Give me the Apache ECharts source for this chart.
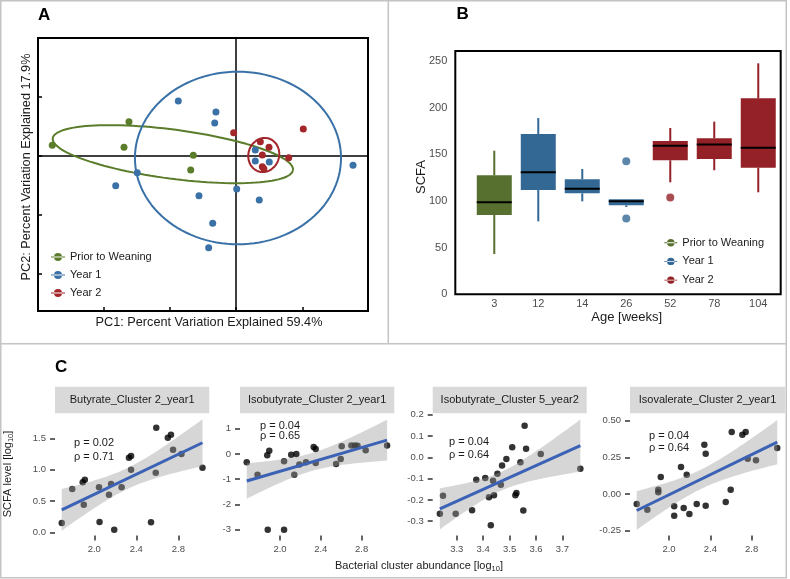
<!DOCTYPE html>
<html><head><meta charset="utf-8">
<script src="https://cdn.jsdelivr.net/npm/echarts@6/dist/echarts.min.js"></script>
<style>html,body{margin:0;padding:0;background:#fff}#c{width:790px;height:579px}</style>
</head><body><div id="c"></div>
<script>
// ---------- Panel A: PCA scores ----------
const groupNames = ['Prior to Weaning', 'Year 1', 'Year 2'];
const pcaPrior = [[-2.771,0.181],[-1.614,0.581],[-1.689,0.147],[-0.644,0.012],[-0.683,-0.237]];
const pcaYear1 = [[-0.870,0.932],[-0.302,0.746],[-0.321,0.559],[-1.814,-0.503],[-1.489,-0.283],[-0.558,-0.673],[0.011,-0.559],[0.351,-0.746],[-0.351,-1.141],[-0.412,-1.554],[1.765,-0.158],[0.291,-0.085],[0.502,-0.102],[0.291,0.102]];
const pcaYear2 = [[-0.035,0.395],[1.015,0.458],[0.367,0.242],[0.498,0.147],[0.397,0.017],[0.795,-0.029],[0.397,-0.181],[0.42,-0.215]];
// ellipse: [centerX, centerY, axis1X, axis1Y, axis2X, axis2Y]
const ellipsePrior = [-0.952, 0.031, 1.813, -0.269, -0.048, -0.412];
const ellipseYear1 = [0.030, -0.034, 1.554, 0, 0, 1.463];
const ellipseYear2 = [0.419, 0.017, 0.075, 0.280, 0.222, -0.075];

// ---------- Panel B: SCFA by age ----------
const ageWeeks = ['3','12','14','26','52','78','104'];
const ageGroup = [0,1,1,1,2,2,2];
const boxLow = [43.2, 78.2, 99.6, 93.5, 120.0, 132.9, 109.3];
const boxQ1 = [85.0, 111.8, 108.2, 95.4, 143.6, 145.0, 135.7];
const boxMedian = [98.6, 130.7, 113.2, 99.6, 159.3, 160.4, 157.1];
const boxQ3 = [127.5, 171.8, 123.2, 101.8, 164.3, 167.1, 210.0];
const boxHigh = [153.9, 188.9, 134.3, 101.8, 178.2, 185.0, 247.5];
const outlierAge = [3, 3, 4];
const outlierValue = [142.5, 81.1, 103.6];

// ---------- Panel C: correlations ----------
const stripNames = ['Butyrate_Cluster 2_year1','Isobutyrate_Cluster 2_year1','Isobutyrate_Cluster 5_year2','Isovalerate_Cluster 2_year1'];
const pValues = ['0.02','0.04','0.04','0.04'];
const rhoValues = ['0.71','0.65','0.64','0.64'];
const corrButyrate = [[1.69,0.15],[1.79,0.69],[1.90,0.44],[1.89,0.80],[1.91,0.84],[2.045,0.72],[2.05,0.165],[2.14,0.60],[2.16,0.77],[2.19,0.04],[2.26,0.72],[2.33,1.19],[2.35,1.22],[2.35,1.00],[2.54,0.16],[2.585,0.95],[2.59,1.67],[2.70,1.51],[2.73,1.56],[2.75,1.32],[2.83,1.25],[3.03,1.03]];
const corrIsobut2 = [[1.674,-0.33],[1.78,-0.82],[1.875,-0.05],[1.895,0.13],[1.88,-3.01],[2.04,-3.01],[2.04,-0.29],[2.11,-0.03],[2.16,0.0],[2.14,-0.82],[2.19,-0.42],[2.255,-0.33],[2.33,0.28],[2.35,0.20],[2.35,-0.36],[2.55,-0.40],[2.595,-0.20],[2.605,0.31],[2.70,0.34],[2.735,0.34],[2.76,0.33],[2.84,0.15],[3.05,0.34]];
const corrIsobut5 = [[3.236,-0.265],[3.248,-0.18],[3.296,-0.265],[3.358,-0.249],[3.374,-0.105],[3.408,-0.097],[3.422,-0.188],[3.429,-0.319],[3.4375,-0.11],[3.441,-0.178],[3.454,-0.077],[3.467,-0.129],[3.4715,-0.038],[3.488,-0.008],[3.51,0.047],[3.522,-0.178],[3.526,-0.168],[3.541,-0.023],[3.552,-0.25],[3.557,0.148],[3.5625,0.040],[3.618,0.016],[3.768,-0.054]];
const corrIsoval = [[1.687,-0.068],[1.79,-0.107],[1.896,0.029],[1.896,0.012],[1.92,0.116],[2.05,-0.084],[2.05,-0.148],[2.116,0.185],[2.142,-0.096],[2.171,0.132],[2.197,-0.137],[2.268,-0.068],[2.342,0.337],[2.355,0.275],[2.355,-0.080],[2.549,-0.055],[2.597,0.029],[2.607,0.424],[2.71,0.405],[2.742,0.424],[2.762,0.241],[2.842,0.23],[3.048,0.314]];
const cXTicks = [[2.0,2.4,2.8],[2.0,2.4,2.8],[3.3,3.4,3.5,3.6,3.7],[2.0,2.4,2.8]];
const cYTicks = [[0,0.5,1.0,1.5],[-3,-2,-1,0,1],[-0.3,-0.2,-0.1,0,0.1,0.2],[-0.25,0,0.25,0.5]];
const cYDecimals = [1,0,1,2];

// ---------- helpers ----------
const FONT = 'Liberation Sans, Arial, sans-serif';
const colA = ['#5b7d2b','#3a72a8','#a3262b'];
const colB = ['#577030','#336895','#932127'];

function ellipsePath(e) {
  const pts = [];
  for (let i = 0; i <= 120; i++) {
    const t = 2 * Math.PI * i / 120;
    pts.push([e[0] + Math.cos(t)*e[2] + Math.sin(t)*e[4], e[1] + Math.cos(t)*e[3] + Math.sin(t)*e[5]]);
  }
  return pts;
}
const T975 = {18:2.101,19:2.093,20:2.086,21:2.080,22:2.074,23:2.069,24:2.064,25:2.060};
function lmBand(pts) {
  const n = pts.length;
  let xm = 0, ym = 0;
  pts.forEach(p => { xm += p[0]; ym += p[1]; });
  xm /= n; ym /= n;
  let sxx = 0, sxy = 0;
  pts.forEach(p => { sxx += (p[0]-xm)**2; sxy += (p[0]-xm)*(p[1]-ym); });
  const b = sxy/sxx, a = ym - b*xm;
  let sse = 0;
  pts.forEach(p => { sse += (p[1] - a - b*p[0])**2; });
  const s = Math.sqrt(sse/(n-2));
  const t = T975[n-2] || 2.07;
  const xs = pts.map(p => p[0]);
  const x0 = Math.min(...xs), x1 = Math.max(...xs);
  const band = [];
  for (let i = 0; i < 80; i++) {
    const x = x0 + (x1-x0)*i/79;
    const yh = a + b*x;
    const se = s*Math.sqrt(1/n + (x-xm)**2/sxx);
    band.push([x, yh - t*se, yh + t*se]);
  }
  return {band, line: [[x0, a+b*x0],[x1, a+b*x1]]};
}

const legendIcon = 'path://M0,3.5H14V4.5H0Z M3,4A4,4 0 1,0 11,4A4,4 0 1,0 3,4Z';

// ---------- grids & axes ----------
const C_TOP = 413.4, C_H = 122.1;
const grids = [
  {left: 38, top: 38, width: 330, height: 273, show: true, borderColor: '#000', borderWidth: 2, backgroundColor: '#fff'},
  {left: 455.3, top: 51, width: 325.4, height: 243.3, show: true, borderColor: '#000', borderWidth: 2, backgroundColor: '#fff'},
  {left: 55, top: C_TOP, width: 154.3, height: C_H},
  {left: 240, top: C_TOP, width: 154.3, height: C_H},
  {left: 432.7, top: C_TOP, width: 154, height: C_H},
  {left: 630, top: C_TOP, width: 155, height: C_H}
];
const cXRange = [[1.626,3.095],[1.608,3.1206],[3.209,3.792],[1.622,3.123]];
const cYRange = [[-0.051,1.899],[-3.238,1.613],[-0.3671,0.2061],[-0.2837,0.551]];

const xAxes = [
  {gridIndex: 0, type: 'value', min: -2.986, max: 1.991, axisLine: {show: false, onZero: false}, splitLine: {show: false},
   axisTick: {show: true, inside: true, length: 4, customValues: [-2,-1,0,1], lineStyle: {color: '#000', width: 1.5}}, axisLabel: {show: false}},
  {gridIndex: 1, type: 'value', min: -0.886, max: 6.51, axisLine: {show: false, onZero: false}, splitLine: {show: false}, axisTick: {show: false},
   axisLabel: {customValues: [0,1,2,3,4,5,6], formatter: v => ageWeeks[Math.round(v)], color: '#4d4d4d', fontSize: 11, fontFamily: FONT, margin: 4}}
];
const yAxes = [
  {gridIndex: 0, type: 'value', min: -2.627, max: 2.0, axisLine: {show: false, onZero: false}, splitLine: {show: false},
   axisTick: {show: true, inside: true, length: 4, customValues: [-2,-1,0,1], lineStyle: {color: '#000', width: 1.5}}, axisLabel: {show: false}},
  {gridIndex: 1, type: 'value', min: 0, max: 260.7, axisLine: {show: false, onZero: false}, splitLine: {show: false}, axisTick: {show: false},
   axisLabel: {customValues: [0,50,100,150,200,250], color: '#4d4d4d', fontSize: 11, fontFamily: FONT, margin: 8}}
];
for (let i = 0; i < 4; i++) {
  xAxes.push({gridIndex: i+2, type: 'value', min: cXRange[i][0], max: cXRange[i][1], axisLine: {show: false, onZero: false}, splitLine: {show: false},
    axisTick: {show: true, length: 5, customValues: cXTicks[i], lineStyle: {color: '#333', width: 1.5}},
    axisLabel: {customValues: cXTicks[i], formatter: v => v.toFixed(1), color: '#4d4d4d', fontSize: 9.5, fontFamily: FONT, margin: 9}});
  yAxes.push({gridIndex: i+2, type: 'value', min: cYRange[i][0], max: cYRange[i][1], axisLine: {show: false, onZero: false}, splitLine: {show: false},
    axisTick: {show: true, length: 5, customValues: cYTicks[i], lineStyle: {color: '#333', width: 1.5}},
    axisLabel: {customValues: cYTicks[i], formatter: (v => (x => x.toFixed(cYDecimals[i])))(i), color: '#4d4d4d', fontSize: 9.5, fontFamily: FONT, margin: 9}});
}

// ---------- series ----------
const series = [];
[ellipsePrior, ellipseYear1, ellipseYear2].forEach((e, g) => {
  series.push({type: 'line', xAxisIndex: 0, yAxisIndex: 0, data: ellipsePath(e), showSymbol: false, silent: true,
    lineStyle: {color: colA[g], width: 2}, z: 2});
});
[pcaPrior, pcaYear1, pcaYear2].forEach((d, g) => {
  const s = {type: 'scatter', name: groupNames[g], xAxisIndex: 0, yAxisIndex: 0, data: d, symbolSize: 7,
    itemStyle: {color: colA[g], opacity: 1}, z: 4};
  if (g === 0) {
    s.markLine = {silent: true, symbol: 'none', label: {show: false}, lineStyle: {color: '#000', width: 1.5, type: 'solid'},
      data: [{xAxis: 0}, {yAxis: 0}], z: 1};
  }
  series.push(s);
});

function renderBox(params, api) {
  const x = api.value(0);
  const lo = api.coord([x, api.value(1)]);
  const q1 = api.coord([x, api.value(2)]);
  const md = api.coord([x, api.value(3)]);
  const q3 = api.coord([x, api.value(4)]);
  const hi = api.coord([x, api.value(5)]);
  const w = 35;
  const color = api.visual('color');
  return {type: 'group', children: [
    {type: 'line', shape: {x1: lo[0], y1: lo[1], x2: q1[0], y2: q1[1]}, style: {stroke: color, lineWidth: 2}},
    {type: 'line', shape: {x1: q3[0], y1: q3[1], x2: hi[0], y2: hi[1]}, style: {stroke: color, lineWidth: 2}},
    {type: 'rect', shape: {x: q3[0]-w/2, y: q3[1], width: w, height: q1[1]-q3[1]}, style: {fill: color}},
    {type: 'line', shape: {x1: md[0]-w/2, y1: md[1], x2: md[0]+w/2, y2: md[1]}, style: {stroke: '#000', lineWidth: 2}}
  ]};
}
for (let g = 0; g < 3; g++) {
  const data = [];
  ageWeeks.forEach((a, i) => {
    if (ageGroup[i] === g) data.push([i, boxLow[i], boxQ1[i], boxMedian[i], boxQ3[i], boxHigh[i]]);
  });
  series.push({type: 'custom', name: groupNames[g], xAxisIndex: 1, yAxisIndex: 1, data, renderItem: renderBox,
    itemStyle: {color: colB[g]}, encode: {x: 0, y: [1,2,3,4,5]}, z: 3});
}
series.push({type: 'scatter', name: 'outliers', xAxisIndex: 1, yAxisIndex: 1, symbolSize: 8, z: 4,
  data: outlierAge.map((a, i) => ({value: [a, outlierValue[i]], itemStyle: {color: colB[ageGroup[a]]}}))});

[corrButyrate, corrIsobut2, corrIsobut5, corrIsoval].forEach((pts, i) => {
  const fit = lmBand(pts);
  series.push({type: 'scatter', xAxisIndex: i+2, yAxisIndex: i+2, data: pts, symbolSize: 6.5, itemStyle: {color: '#000'}, z: 2});
  series.push({type: 'custom', xAxisIndex: i+2, yAxisIndex: i+2, data: fit.band, z: 3, silent: true,
    encode: {x: 0, y: [1,2]},
    renderItem: (params, api) => {
      if (params.dataIndex !== 0) return null;
      const up = fit.band.map(b => api.coord([b[0], b[2]]));
      const dn = fit.band.map(b => api.coord([b[0], b[1]])).reverse();
      return {type: 'polygon', shape: {points: up.concat(dn)}, style: {fill: 'rgba(153,153,153,0.4)'}};
    }});
  series.push({type: 'line', xAxisIndex: i+2, yAxisIndex: i+2, data: fit.line, showSymbol: false, silent: true,
    lineStyle: {color: '#3c62b5', width: 3}, z: 4});
});

// ---------- text & decorations ----------
const graphics = [
  {type: 'rect', shape: {x: 0.75, y: 0.75, width: 785.5, height: 577}, style: {fill: 'none', stroke: '#c4c4c4', lineWidth: 1.5}, silent: true},
  {type: 'line', shape: {x1: 388.3, y1: 0, x2: 388.3, y2: 344}, style: {stroke: '#c4c4c4', lineWidth: 1.5}, silent: true},
  {type: 'line', shape: {x1: 0, y1: 343.8, x2: 786.5, y2: 343.8}, style: {stroke: '#c4c4c4', lineWidth: 1.5}, silent: true},
  {type: 'text', x: 38, y: 15.5, style: {text: 'A', font: 'bold 17px ' + FONT, fill: '#000', verticalAlign: 'middle'}},
  {type: 'text', x: 456.5, y: 14.7, style: {text: 'B', font: 'bold 17px ' + FONT, fill: '#000', verticalAlign: 'middle'}},
  {type: 'text', x: 55, y: 367.5, style: {text: 'C', font: 'bold 17px ' + FONT, fill: '#000', verticalAlign: 'middle'}},
  {type: 'text', x: 209, y: 322.7, style: {text: 'PC1: Percent Variation Explained 59.4%', font: '12.7px ' + FONT, fill: '#1a1a1a', align: 'center', verticalAlign: 'middle'}},
  {type: 'text', x: 26, y: 167, rotation: Math.PI/2, style: {text: 'PC2: Percent Variation Explained 17.9%', font: '12.7px ' + FONT, fill: '#1a1a1a', align: 'center', verticalAlign: 'middle'}},
  {type: 'text', x: 626.7, y: 317.7, style: {text: 'Age [weeks]', font: '13px ' + FONT, fill: '#1a1a1a', align: 'center', verticalAlign: 'middle'}},
  {type: 'text', x: 421, y: 177, rotation: Math.PI/2, style: {text: 'SCFA', font: '13px ' + FONT, fill: '#1a1a1a', align: 'center', verticalAlign: 'middle'}},
  {type: 'text', x: 419, y: 566, style: {text: '{a|Bacterial cluster abundance [log}{s|10}{a|]}', align: 'center', verticalAlign: 'middle',
    rich: {a: {fontSize: 11, fontFamily: FONT, fill: '#1a1a1a', lineHeight: 14}, s: {fontSize: 7.5, fontFamily: FONT, fill: '#1a1a1a', lineHeight: 14, padding: [6,0,0,0]}}}},
  {type: 'text', x: 8, y: 474, rotation: Math.PI/2, style: {text: '{a|SCFA level [log}{s|10}{a|]}', align: 'center', verticalAlign: 'middle',
    rich: {a: {fontSize: 11, fontFamily: FONT, fill: '#1a1a1a', lineHeight: 14}, s: {fontSize: 7.5, fontFamily: FONT, fill: '#1a1a1a', lineHeight: 14, padding: [6,0,0,0]}}}}
];
// legend key backgrounds
[257, 275, 293].forEach(y => graphics.push({type: 'rect', shape: {x: 50, y: y-7.5, width: 16, height: 15}, style: {fill: '#ebebeb'}, z: -1, silent: true}));
[242.7, 261.3, 280].forEach(y => graphics.push({type: 'rect', shape: {x: 664, y: y-6.5, width: 13.5, height: 13}, style: {fill: '#e3e3e3'}, z: -1, silent: true}));
// strips & stats
const stripX = [[55,154.3],[240,154.3],[432.7,154],[630,155]];
const statPos = [[74,443.3,456.7],[260,426,435.5],[449,441.7,455],[649,435.7,448.3]];
stripNames.forEach((s, i) => {
  graphics.push({type: 'rect', shape: {x: stripX[i][0], y: 386.7, width: stripX[i][1], height: 26.6}, style: {fill: '#d9d9d9'}, silent: true});
  graphics.push({type: 'text', x: stripX[i][0] + stripX[i][1]/2, y: 400, style: {text: s, font: '11px ' + FONT, fill: '#1a1a1a', align: 'center', verticalAlign: 'middle'}});
  graphics.push({type: 'text', x: statPos[i][0], y: statPos[i][1], style: {text: 'p = ' + pValues[i], font: '11px ' + FONT, fill: '#1a1a1a', verticalAlign: 'middle'}, z: 10});
  graphics.push({type: 'text', x: statPos[i][0], y: statPos[i][2], style: {text: 'ρ = ' + rhoValues[i], font: '11px ' + FONT, fill: '#1a1a1a', verticalAlign: 'middle'}, z: 10});
});

const legendText = {fontSize: 11, fontFamily: FONT, color: '#1a1a1a', lineHeight: 14};
const option = {
  animation: false,
  backgroundColor: '#fff',
  grid: grids,
  xAxis: xAxes,
  yAxis: yAxes,
  legend: [
    {orient: 'vertical', left: 51, top: 250, padding: 0, itemWidth: 14, itemHeight: 8, itemGap: 4, icon: legendIcon, textStyle: legendText, selectedMode: false,
     data: groupNames.map((n, g) => ({name: n, itemStyle: {color: colA[g]}}))},
    {orient: 'vertical', left: 664.3, top: 235.7, padding: 0, itemWidth: 13, itemHeight: 8, itemGap: 4.7, icon: legendIcon, textStyle: legendText, selectedMode: false,
     data: groupNames.map((n, g) => ({name: n, itemStyle: {color: colB[g]}}))}
  ],
  graphic: {elements: graphics},
  series
};
const chart = echarts.init(document.getElementById('c'), null, {renderer: 'canvas'});
chart.setOption(option);
</script></body></html>
